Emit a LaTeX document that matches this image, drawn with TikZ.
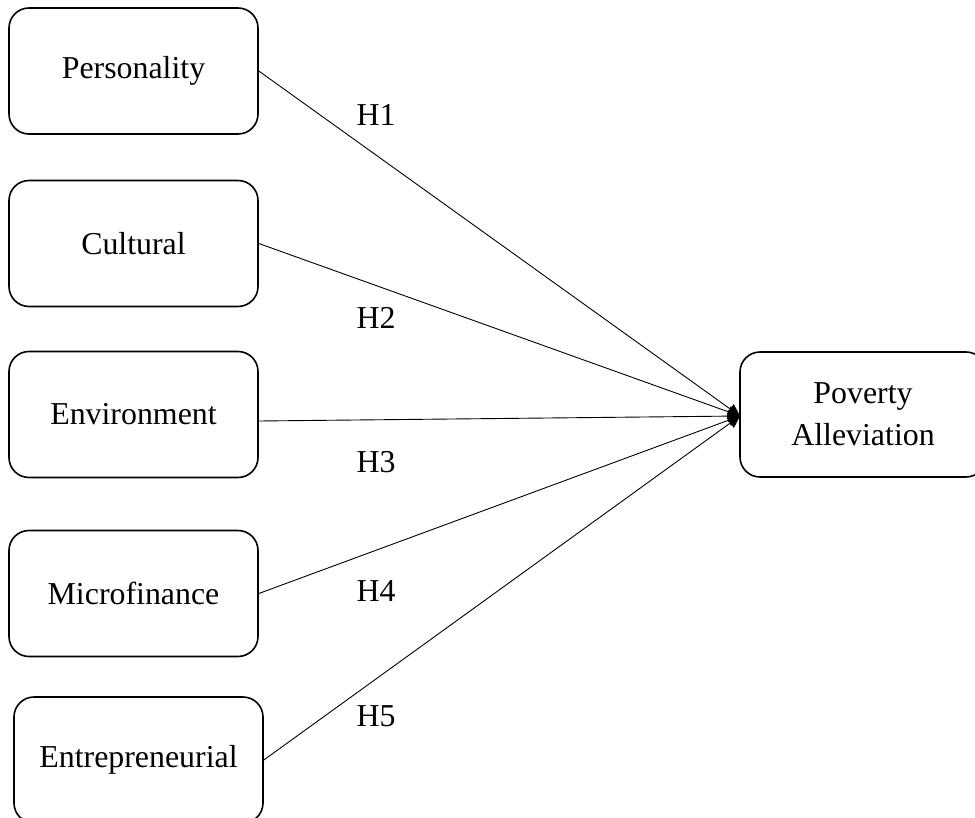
\documentclass[tikz,border=0pt]{standalone}
\usepackage{fontspec}
\setmainfont{Liberation Serif}
\usetikzlibrary{arrows.meta}
\begin{document}
\begin{tikzpicture}[x=1bp,y=-1bp,
  varbox/.style={draw,line width=1.6bp,rounded corners=20bp,minimum width=249bp,minimum height=126bp,inner sep=0pt,font=\fontsize{32}{42}\selectfont,align=center},
  link/.style={line width=0.9bp,-{Triangle[length=12bp,width=12bp]}},
  hlab/.style={font=\fontsize{32}{38}\selectfont,inner sep=0pt}]
\useasboundingbox (0,0) rectangle (975,818);
\node[varbox] (pers) at (133.5,71) {Personality};
\node[varbox] (cult) at (133.5,243.5) {Cultural};
\node[varbox] (env) at (133.5,414.5) {Environment};
\node[varbox] (micro) at (133.5,593.5) {Microfinance};
\node[varbox] (entr) at (138.5,760) {Entrepreneurial};
\node[varbox,minimum width=246bp,minimum height=125bp] (pov) at (863,414.5) {Poverty\\Alleviation};
\coordinate (tip) at (740,416);
\draw[link] (pers.east) -- (tip);
\draw[link] (cult.east) -- (tip);
\draw[link] ([yshift=-6.5bp]env.east) -- (tip);
\draw[link] (micro.east) -- (tip);
\draw[link] (entr.east) -- (tip);
\node[hlab] (h1) at (376,115) {H1};
\node[hlab] (h2) at (376,318) {H2};
\node[hlab] (h3) at (376,462) {H3};
\node[hlab] (h4) at (376,591) {H4};
\node[hlab] (h5) at (376,716) {H5};
\end{tikzpicture}
\end{document}
